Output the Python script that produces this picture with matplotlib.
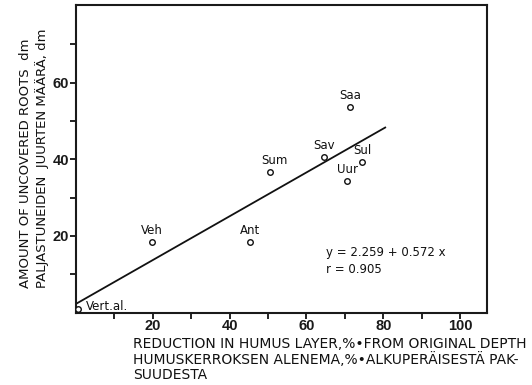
import matplotlib
matplotlib.use("Agg")
import matplotlib.pyplot as plt
import numpy as np

plt.rcParams['font.family'] = ['DejaVu Sans']

# Data
site_labels = ["Vert.al.", "Veh", "Ant", "Sum", "Sav", "Saa", "Sul", "Uur"]
humus_reduction = [0.5, 19.7, 45.2, 50.6, 64.5, 71.4, 74.5, 70.6]
uncovered_roots = [1.0, 18.4, 18.4, 36.8, 40.7, 53.6, 39.3, 34.4]

reg_intercept = 2.259
reg_slope = 0.572
reg_x_range = [0.0, 80.7]

x_major = [20, 40, 60, 80, 100]
x_minor = [10, 30, 50, 70, 90]
y_major = [20, 40, 60]
y_minor = [10, 30, 50, 70]

eq_text = "y = 2.259 + 0.572 x\nr = 0.905"
ylabel_text = "AMOUNT OF UNCOVERED ROOTS  dm\nPALJASTUNEIDEN  JUURTEN MÄÄRÄ, dm"
xlabel_text = ("REDUCTION IN HUMUS LAYER,%•FROM ORIGINAL DEPTH\n"
               "HUMUSKERROKSEN ALENEMA,%•ALKUPERÄISESTÄ PAK-\n"
               "SUUDESTA")

fig = plt.figure(figsize=(5.32, 3.85), dpi=100)
ax = fig.add_axes([76/532, 1 - 312.5/385, (487-76)/532, (312.5-5)/385])
ax.set_xlim(0, 107)
ax.set_ylim(0, 80.3)

for s in ax.spines.values():
    s.set_linewidth(1.5)
    s.set_color('#1a1a1a')

# regression line
xr = np.array(reg_x_range)
ax.plot(xr, reg_intercept + reg_slope * xr, color='#111111', lw=1.3, solid_capstyle='butt')

# points
ax.plot(humus_reduction, uncovered_roots, 'o', mfc='white', mec='#111111',
        ms=4, mew=1.0, linestyle='none', zorder=3)

for lab, x, y in zip(site_labels, humus_reduction, uncovered_roots):
    if lab == "Vert.al.":
        ax.annotate(lab, (x, y), xytext=(8, 2), textcoords='offset pixels',
                    ha='left', va='center', fontsize=8.5, color='#111111')
    else:
        dx = 4 if lab == "Sum" else 0
        ax.annotate(lab, (x, y), xytext=(dx, 5), textcoords='offset pixels',
                    ha='center', va='bottom', fontsize=8.5, color='#111111')

ax.text(65.2, 13.4, eq_text, ha='left', va='center', fontsize=8.5,
        linespacing=1.35, color='#111111')

ax.set_xticks(x_major)
ax.set_xticks(x_minor, minor=True)
ax.set_yticks(y_major)
ax.set_yticks(y_minor, minor=True)
ax.tick_params(which='both', direction='out', length=4, width=1.3, color='#111111',
               labelsize=10.5, pad=1)
for lbl in ax.get_xticklabels() + ax.get_yticklabels():
    lbl.set_fontweight('bold')
    lbl.set_family(['Liberation Sans', 'DejaVu Sans'])
    lbl.set_color('#1a1a1a')

fig.text(133/532, 1 - 337/385, xlabel_text, ha='left', va='top', fontsize=10,
         linespacing=1.1, color='#111111')
fig.text(34/532, 1 - 158/385, ylabel_text, ha='center', va='center', rotation=90,
         fontsize=9.5, linespacing=1.2, multialignment='left',
         color='#111111')

fig.savefig("out.png", dpi=100)
